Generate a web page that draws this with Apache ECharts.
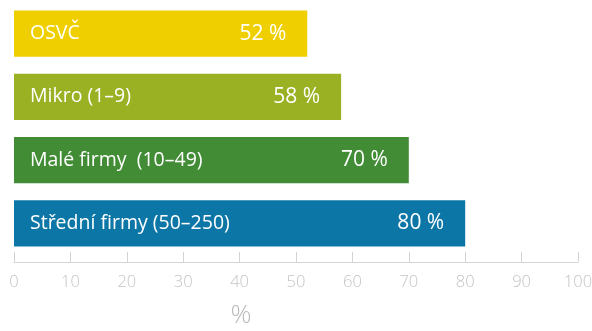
<!DOCTYPE html>
<html>
<head>
<meta charset="utf-8">
<script src="https://cdn.jsdelivr.net/npm/echarts@6/dist/echarts.min.js"></script>
<style>html,body{margin:0;padding:0;background:#fff}#c{width:592px;height:331px}</style>
</head>
<body>
<div id="c"></div>
<script>
var categories = ['OSVČ', 'Mikro (1–9)', 'Malé firmy  (10–49)', 'Střední firmy (50–250)'];
var values = [52, 58, 70, 80];
var colors = ['#F0CF00', '#9AB124', '#428C35', '#0C77A6'];
var xTicks = [0, 10, 20, 30, 40, 50, 60, 70, 80, 90, 100];
var axisName = '%';

var chart = echarts.init(document.getElementById('c'));
var font = 'Open Sans';
chart.setOption({
  animation: false,
  grid: { left: 14, right: 14, top: 2, bottom: 76, containLabel: false, outerBoundsMode: 'none' },
  xAxis: {
    type: 'value', min: 0, max: 100, interval: 10,
    offset: 7,
    name: axisName, nameLocation: 'middle', nameGap: 41,
    nameTextStyle: { color: '#b8b8b8', fontSize: 26, fontFamily: font, fontWeight: 300, padding: [0, 110, 0, 0] },
    axisLine: { show: true, lineStyle: { color: '#d4d4d4', width: 1 } },
    axisTick: { show: true, inside: true, length: 10, lineStyle: { color: '#d4d4d4' } },
    axisLabel: { color: '#c4c4c4', fontSize: 16.5, fontFamily: font, fontWeight: 300, margin: 12,
      formatter: function (v) { return xTicks.indexOf(v) >= 0 ? String(v) : ''; } },
    splitLine: { show: false }
  },
  yAxis: {
    type: 'category', data: categories, inverse: true, show: false
  },
  series: [
    {
      type: 'bar', barCategoryGap: '27%',
      data: values.map(function (v, i) { return { value: v, itemStyle: { color: colors[i] } }; }),
      label: { show: true, position: 'insideRight', distance: 21, color: '#fff', fontSize: 21, fontFamily: font,
        formatter: function (p) { return p.value + ' %'; } }
    },
    {
      type: 'bar', barGap: '-100%', barCategoryGap: '27%',
      data: values.map(function (v) { return { value: v, itemStyle: { color: 'rgba(0,0,0,0)' } }; }),
      label: { show: true, position: 'insideLeft', distance: 16, color: '#fff', fontSize: 19.5, fontFamily: font,
        formatter: function (p) { return categories[p.dataIndex]; } },
      silent: true
    }
  ]
});
</script>
</body>
</html>
